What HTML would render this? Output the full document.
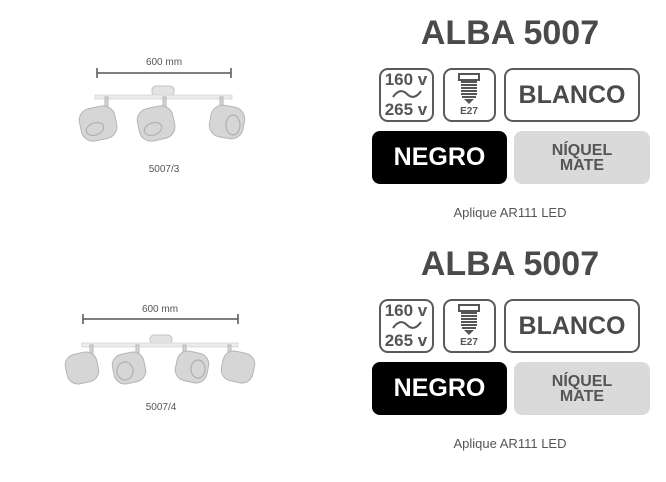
<!DOCTYPE html>
<html><head><meta charset="utf-8"><style>
*{margin:0;padding:0;box-sizing:border-box}
body{width:666px;height:482px;background:#fff;position:relative;overflow:hidden;font-family:"Liberation Sans",sans-serif}
.a{position:absolute}
.t{font-weight:bold;font-size:34px;color:#4a4a4a;width:300px;left:360px;text-align:center;line-height:40px}
.bx{border:2.5px solid #5a5a5a;border-radius:9px;background:#fff}
.lbl{display:flex;align-items:center;justify-content:center;font-weight:bold;text-align:center}
.cap{font-size:13px;color:#555;width:200px;left:410px;text-align:center}
.v{font-weight:bold;font-size:17px;color:#555;line-height:17px;text-align:center}
.sm{font-size:10px;color:#555}
</style></head><body>

<div class="a t" style="top:13px">ALBA 5007</div>
<div class="a bx" style="left:379px;top:68px;width:55px;height:54px">
 <div class="a v" style="left:1px;top:1px;width:48px">160 v</div>
 <svg class="a" style="left:10px;top:17px" width="32" height="14"><path d="M2 10 Q9 0 16 7 T30 4" fill="none" stroke="#555" stroke-width="2"/></svg>
 <div class="a v" style="left:1px;top:31px;width:48px">265 v</div>
</div>
<div class="a bx" style="left:443px;top:68px;width:53px;height:54px">
 <svg class="a" style="left:10px;top:3px" width="28" height="34"><rect x="4" y="1" width="20" height="6" fill="none" stroke="#555" stroke-width="2"/><path d="M6 9h16M6 12h16M6 15h16M6 18h16M6 21h16M7 24h14" stroke="#555" stroke-width="2"/><path d="M9 26h10l-5 5z" fill="#555"/></svg>
 <div class="a sm" style="left:0;top:36px;width:48px;text-align:center;font-weight:bold">E27</div>
</div>
<div class="a bx lbl" style="left:504px;top:68px;width:136px;height:54px;font-size:25px;color:#4a4a4a">BLANCO</div>
<div class="a lbl" style="left:372px;top:131px;width:135px;height:53px;background:#000;border-radius:8px;color:#fff;font-size:25px">NEGRO</div>
<div class="a lbl" style="left:514px;top:131px;width:136px;height:53px;background:#dadada;border-radius:8px;color:#555;font-size:16px;line-height:15px">NÍQUEL<br>MATE</div>
<div class="a cap" style="top:205px">Aplique AR111 LED</div>

<div class="a t" style="top:244px">ALBA 5007</div>
<div class="a bx" style="left:379px;top:299px;width:55px;height:54px">
 <div class="a v" style="left:1px;top:1px;width:48px">160 v</div>
 <svg class="a" style="left:10px;top:17px" width="32" height="14"><path d="M2 10 Q9 0 16 7 T30 4" fill="none" stroke="#555" stroke-width="2"/></svg>
 <div class="a v" style="left:1px;top:31px;width:48px">265 v</div>
</div>
<div class="a bx" style="left:443px;top:299px;width:53px;height:54px">
 <svg class="a" style="left:10px;top:3px" width="28" height="34"><rect x="4" y="1" width="20" height="6" fill="none" stroke="#555" stroke-width="2"/><path d="M6 9h16M6 12h16M6 15h16M6 18h16M6 21h16M7 24h14" stroke="#555" stroke-width="2"/><path d="M9 26h10l-5 5z" fill="#555"/></svg>
 <div class="a sm" style="left:0;top:36px;width:48px;text-align:center;font-weight:bold">E27</div>
</div>
<div class="a bx lbl" style="left:504px;top:299px;width:136px;height:54px;font-size:25px;color:#4a4a4a">BLANCO</div>
<div class="a lbl" style="left:372px;top:362px;width:135px;height:53px;background:#000;border-radius:8px;color:#fff;font-size:25px">NEGRO</div>
<div class="a lbl" style="left:514px;top:362px;width:136px;height:53px;background:#dadada;border-radius:8px;color:#555;font-size:16px;line-height:15px">NÍQUEL<br>MATE</div>
<div class="a cap" style="top:436px">Aplique AR111 LED</div>

<svg class="a" style="left:0;top:0" width="360" height="482" font-family="Liberation Sans, sans-serif">
 <g stroke="#555" stroke-width="1.5"><path d="M97 73H231M97 68v10M231 68v10"/></g>
 <text x="164" y="65" font-size="10" fill="#555" text-anchor="middle">600 mm</text>
 <rect x="152" y="86" width="22" height="10" rx="4" fill="#e2e2e2" stroke="#c4c4c4"/>
 <rect x="95" y="95" width="137" height="4" fill="#ececec" stroke="#d0d0d0" stroke-width="0.7"/>
 <g fill="#d6d6d6" stroke="#b5b5b5" stroke-width="1">
  <rect x="105" y="97" width="3" height="12"/><rect x="163" y="97" width="3" height="12"/><rect x="220" y="97" width="3" height="12"/>
  <rect x="80" y="107" width="36" height="33" rx="12" transform="rotate(-12 98 123)"/>
  <rect x="138" y="107" width="36" height="33" rx="12" transform="rotate(-12 156 123)"/>
  <rect x="210" y="106" width="34" height="32" rx="12" transform="rotate(10 227 122)"/>
 </g>
 <g fill="none" stroke="#b0b0b0" stroke-width="1.2">
  <ellipse cx="95" cy="129" rx="9" ry="6" transform="rotate(-20 95 129)"/>
  <ellipse cx="153" cy="129" rx="9" ry="6" transform="rotate(-20 153 129)"/>
  <ellipse cx="233" cy="125" rx="7" ry="10"/>
 </g>
 <text x="164" y="172" font-size="10" fill="#555" text-anchor="middle">5007/3</text>

 <g stroke="#555" stroke-width="1.5"><path d="M83 319H238M83 314v10M238 314v10"/></g>
 <text x="160" y="312" font-size="10" fill="#555" text-anchor="middle">600 mm</text>
 <rect x="150" y="335" width="22" height="9" rx="4" fill="#e2e2e2" stroke="#c4c4c4"/>
 <rect x="82" y="343" width="156" height="4" fill="#ececec" stroke="#d0d0d0" stroke-width="0.7"/>
 <g fill="#d6d6d6" stroke="#b5b5b5" stroke-width="1">
  <rect x="90" y="345" width="3" height="10"/><rect x="136" y="345" width="3" height="10"/><rect x="183" y="345" width="3" height="10"/><rect x="228" y="345" width="3" height="10"/>
  <rect x="66" y="353" width="32" height="30" rx="11" transform="rotate(-12 82 368)"/>
  <rect x="113" y="353" width="32" height="30" rx="11" transform="rotate(-12 129 368)"/>
  <rect x="176" y="352" width="32" height="30" rx="11" transform="rotate(12 192 367)"/>
  <rect x="222" y="352" width="32" height="30" rx="11" transform="rotate(12 238 367)"/>
 </g>
 <g fill="none" stroke="#b0b0b0" stroke-width="1.2">
  <ellipse cx="125" cy="371" rx="8" ry="9"/>
  <ellipse cx="198" cy="369" rx="7" ry="9"/>
 </g>
 <text x="161" y="410" font-size="10" fill="#555" text-anchor="middle">5007/4</text>
</svg>
</body></html>
